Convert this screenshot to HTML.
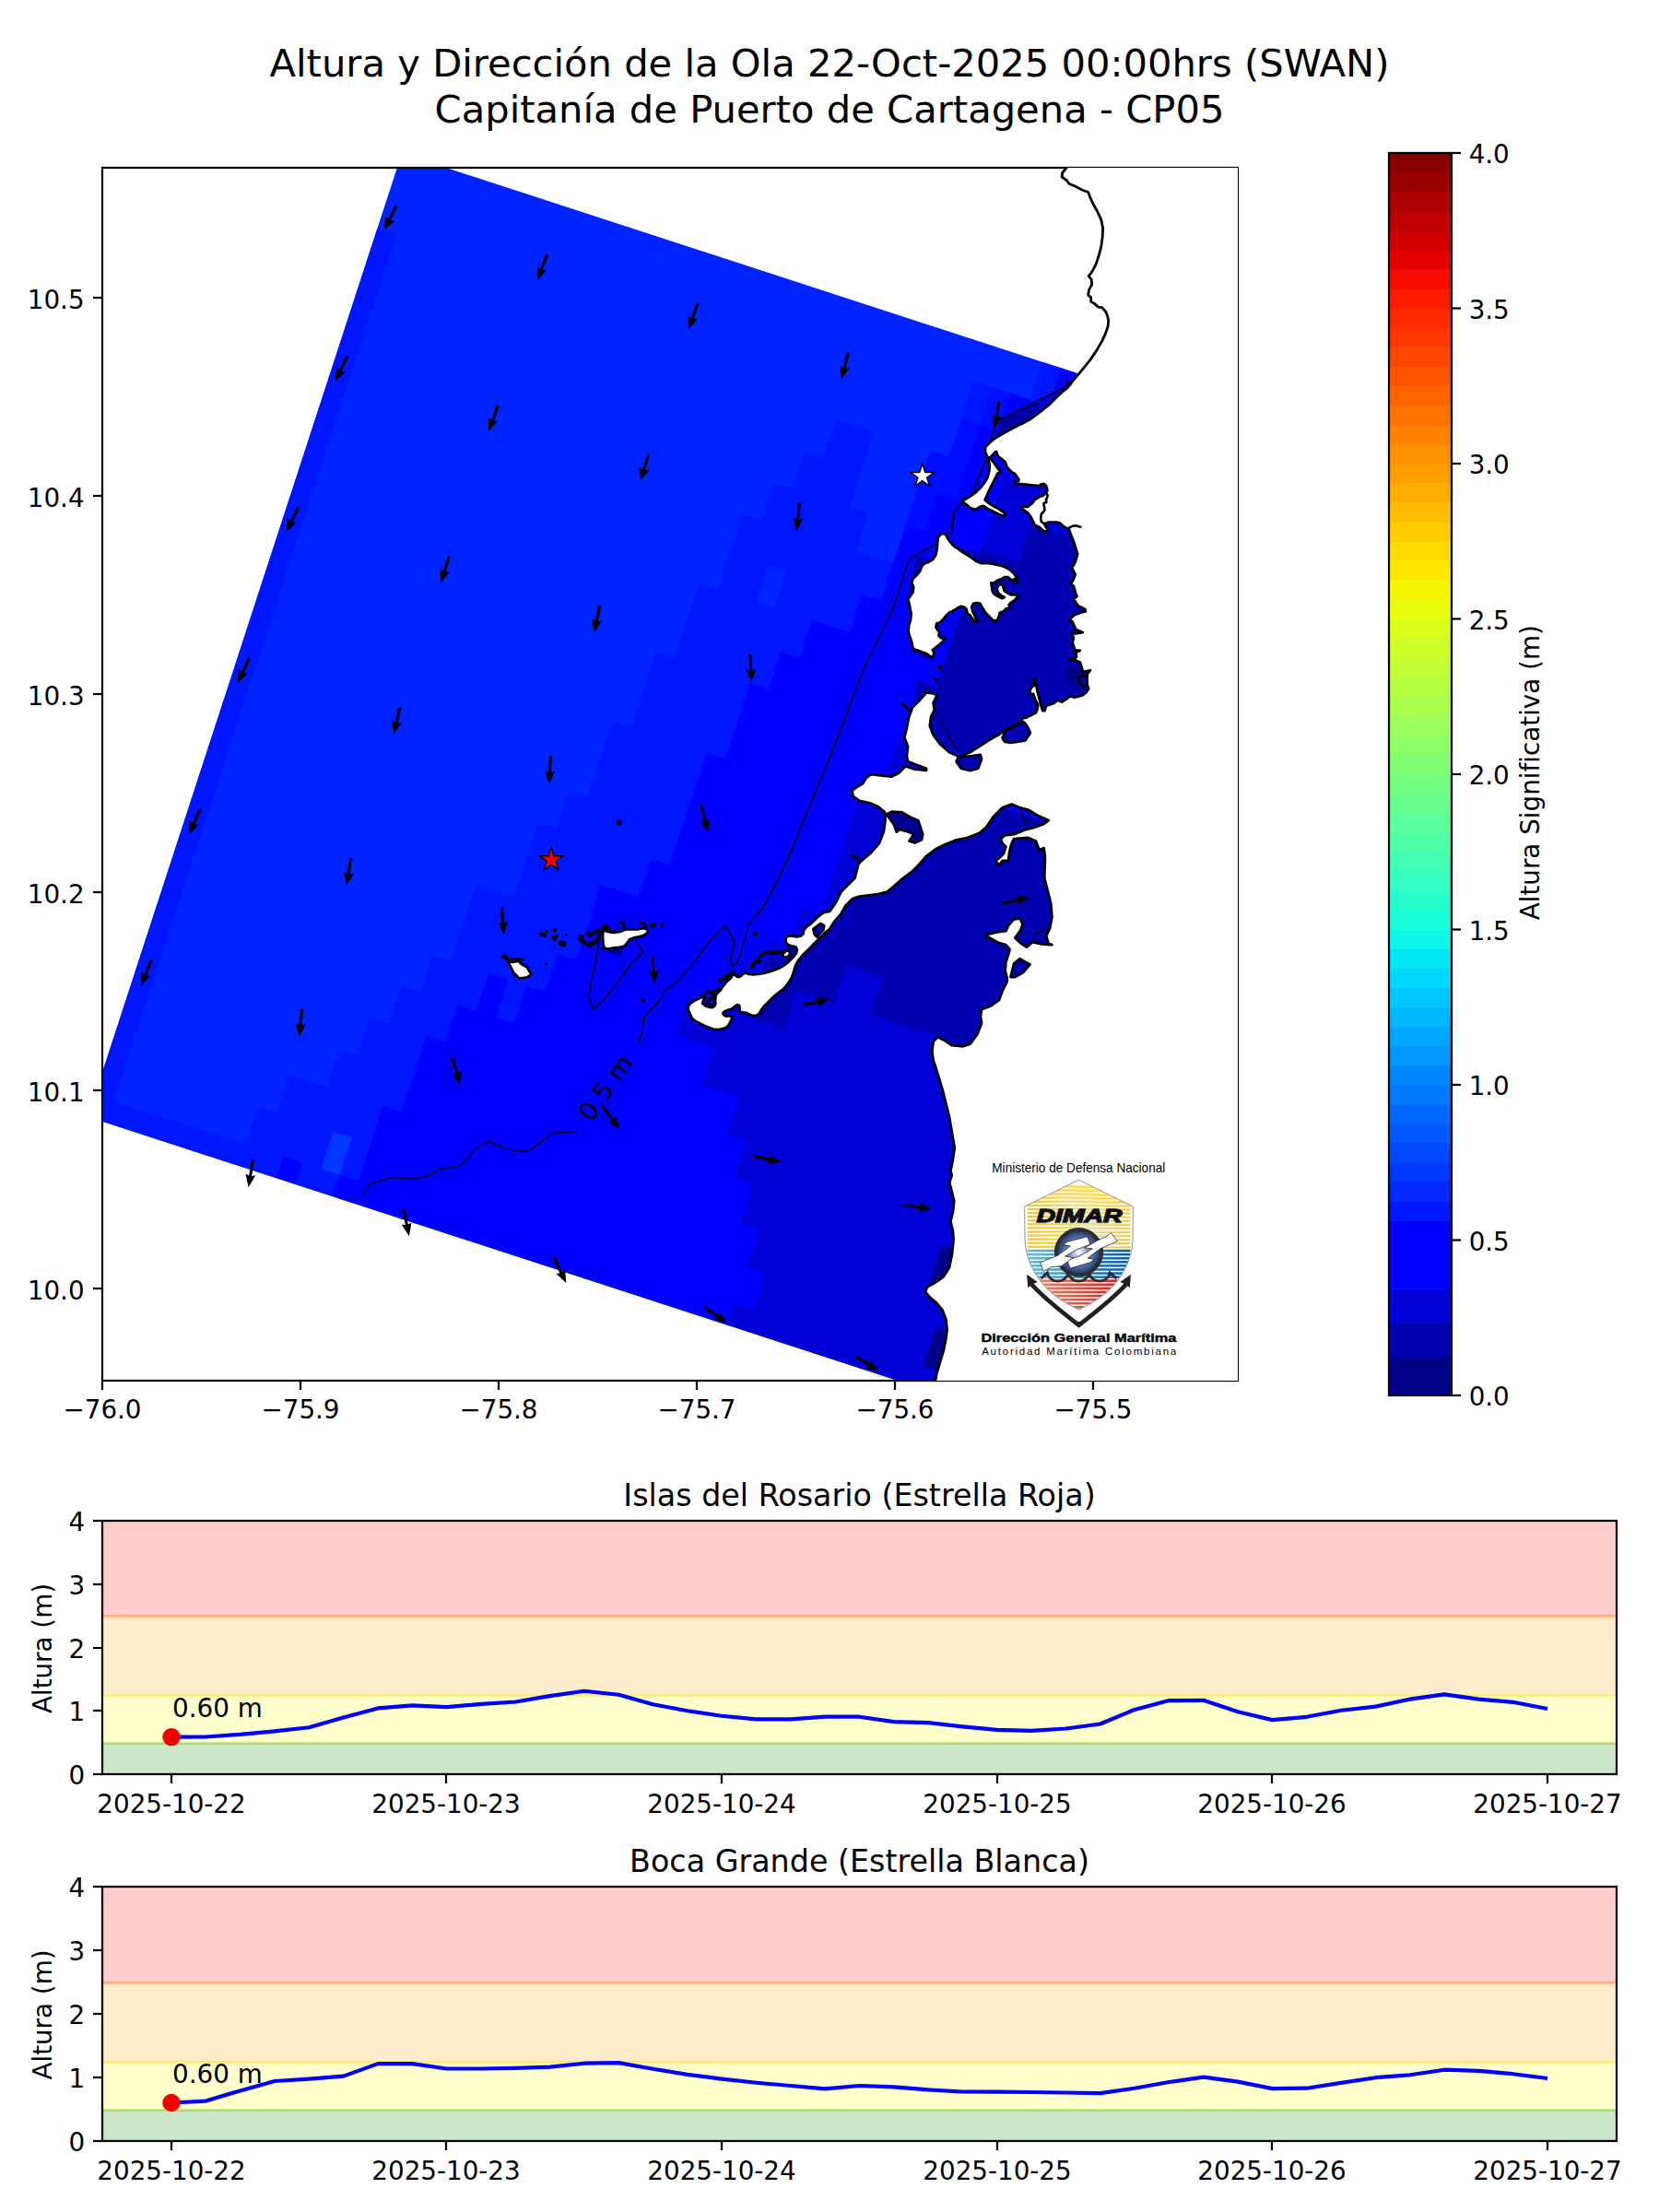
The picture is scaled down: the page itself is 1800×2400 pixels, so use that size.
<!DOCTYPE html>
<html lang="es"><head><meta charset="utf-8"><title>Altura y Dirección de la Ola</title>
<style>html,body{margin:0;padding:0;background:#fff}svg{display:block}text{font-family:'DejaVu Sans','Liberation Sans',sans-serif;fill:#000}</style></head><body>
<svg width="1800" height="2400" viewBox="0 0 1800 2400">
<rect width="1800" height="2400" fill="#fff"/>
<text x="900" y="82.6" font-size="41.67" text-anchor="middle">Altura y Dirección de la Ola 22-Oct-2025 00:00hrs (SWAN)</text>
<text x="900" y="133" font-size="41.67" text-anchor="middle">Capitanía de Puerto de Cartagena - CP05</text>
<clipPath id="cm"><rect x="111" y="182" width="1232" height="1316"/></clipPath>
<g clip-path="url(#cm)">
<path d="M484.18 182 L430.88 182 L111 1163.59 L111 1216.69 L974.21 1498 L1132.66 1498 L1343 852.56 L1343 461.88Z" fill="#0024ff"/>
<path d="M347.84 1268.53 L368.85 1275.38 L382.36 1233.92 L361.35 1227.07Z" fill="#0038ff"/>
<path d="M307.53 1255.39 L327.4 1261.87 L319.93 1284.78 L361.38 1298.29 L368.85 1275.38 L389.29 1282.04 L402.8 1240.58 L415.94 1200.27 L436.38 1206.93 L449.89 1165.48 L463.03 1125.16 L483.47 1131.83 L496.79 1090.94 L517.24 1097.6 L530.56 1056.72 L550.43 1063.2 L537.11 1104.08 L558.12 1110.93 L571.44 1070.04 L591.89 1076.7 L605.21 1035.82 L625.65 1042.48 L638.97 1001.6 L652.3 960.72 L672.17 967.19 L693.18 974.04 L706.5 933.15 L726.95 939.82 L740.27 898.93 L753.59 858.05 L766.92 817.16 L787.36 823.83 L800.68 782.94 L814.01 742.06 L834.45 748.72 L847.77 707.84 L868.21 714.5 L881.54 673.61 L901.41 680.09 L922.42 686.94 L935.74 646.05 L956.19 652.72 L969.69 611.26 L949.25 604.6 L928.81 597.94 L942.13 557.05 L921.69 550.39 L935.02 509.51 L948.34 468.63 L927.9 461.96 L906.89 455.12 L893.56 496 L873.12 489.34 L859.8 530.22 L839.35 523.56 L826.03 564.44 L805.59 557.78 L792.27 598.67 L778.94 639.55 L758.5 632.89 L745.18 673.77 L731.85 714.66 L711.41 707.99 L698.09 748.88 L684.76 789.76 L664.32 783.1 L651 823.98 L637.68 864.87 L617.23 858.21 L603.91 899.09 L583.47 892.43 L570.15 933.31 L556.82 974.2 L536.95 967.72 L515.94 960.87 L502.61 1001.76 L489.29 1042.64 L468.85 1035.98 L455.53 1076.86 L435.08 1070.2 L421.76 1111.08 L401.32 1104.42 L388 1145.31 L367.55 1138.64 L354.23 1179.53 L333.79 1172.87 L313.35 1166.21 L300.02 1207.09 L279.58 1200.43 L266.26 1241.31 L246.39 1234.84 L225.94 1228.17 L205.5 1221.51 L185.06 1214.85 L164.62 1208.19 L144.18 1201.53 L123.73 1194.86 L136.87 1154.55 L150.2 1113.67 L163.52 1072.78 L176.84 1031.9 L190.17 991.02 L203.49 950.13 L216.81 909.25 L230.14 868.36 L243.46 827.48 L256.78 786.6 L270.11 745.71 L283.43 704.83 L296.75 663.95 L310.08 623.06 L323.4 582.18 L336.72 541.29 L350.23 499.84 L363.37 459.53 L363.56 458.96 L376.88 418.07 L390.2 377.19 L403.53 336.3 L416.85 295.42 L430.17 254.54 L409.45 247.78 L111 1163.59 L111 1216.69 L300.06 1278.3ZM361.73 1227.83 L381.6 1234.31 L368.47 1274.62 L348.6 1268.14ZM833.53 612.75 L853.41 619.22 L840.27 659.54 L820.4 653.06ZM1117.32 433.87 L1138.34 440.72 L1151.75 399.55 L1130.74 392.71ZM1056.18 413.32 L1042.67 454.77 L1063.69 461.62 L1077.2 420.17Z" fill="#0016ff"/>
<path d="M1029.54 495.09 L1009.09 488.42 L995.77 529.31 L982.26 570.76 L1003.27 577.61 L1016.6 536.73 L1037.04 543.39 L1050.36 502.5 L1050.55 501.93 L1063.69 461.62 L1084.13 468.28 L1097.64 426.83 L1076.63 419.98 L1063.3 460.86 L1042.86 454.2Z" fill="#000cff"/>
<path d="M436 1206.18 L415.56 1199.51 L402.05 1240.97 L402.05 1240.97 L388.91 1281.28 L368.47 1274.62 L360.81 1298.1 L381.83 1304.95 L389.29 1282.04 L409.74 1288.7 L430.18 1295.36 L450.62 1302.02 L463.94 1261.14 L484.38 1267.8 L504.83 1274.46 L518.15 1233.58 L538.02 1240.05 L558.46 1246.72 L579.48 1253.56 L592.8 1212.68 L612.67 1219.16 L633.68 1226 L647.01 1185.12 L667.45 1191.78 L680.96 1150.33 L694.28 1109.44 L707.42 1069.13 L727.86 1075.79 L741.18 1034.91 L761.63 1041.57 L774.95 1000.69 L794.82 1007.16 L815.83 1014.01 L829.16 973.12 L842.48 932.24 L862.92 938.9 L876.25 898.02 L889.57 857.14 L902.89 816.25 L916.22 775.37 L929.54 734.48 L942.86 693.6 L963.3 700.26 L976.63 659.38 L989.95 618.49 L1003.27 577.61 L1023.72 584.27 L1037.04 543.39 L1057.48 550.05 L1070.99 508.6 L1084.31 467.71 L1063.3 460.86 L1049.79 502.32 L1036.66 542.63 L1016.21 535.97 L1002.89 576.85 L982.45 570.19 L969.12 611.08 L955.8 651.96 L935.36 645.3 L922.04 686.18 L902.16 679.71 L881.15 672.86 L867.83 713.74 L847.39 707.08 L834.06 747.96 L813.62 741.3 L800.3 782.19 L786.97 823.07 L766.53 816.41 L753.21 857.29 L739.89 898.18 L726.56 939.06 L706.12 932.4 L692.8 973.28 L672.93 966.81 L651.91 959.96 L638.59 1000.84 L625.27 1041.73 L604.82 1035.06 L591.5 1075.95 L571.06 1069.29 L557.74 1110.17 L537.86 1103.69 L551.19 1062.81 L530.18 1055.96 L516.85 1096.85 L496.41 1090.19 L483.09 1131.07 L462.64 1124.41 L449.14 1165.86 L449.14 1165.86Z" fill="#0000ff"/>
<path d="M559.22 1246.33 L538.78 1239.67 L517.77 1232.82 L504.44 1273.71 L484 1267.04 L463.56 1260.38 L450.23 1301.27 L429.79 1294.6 L409.35 1287.94 L388.91 1281.28 L381.26 1304.77 L790.66 1438.19 L798.13 1415.27 L818.57 1421.93 L832.08 1380.48 L811.64 1373.82 L824.96 1332.93 L804.52 1326.27 L817.85 1285.39 L797.4 1278.73 L810.73 1237.84 L790.29 1231.18 L803.61 1190.3 L783.17 1183.64 L762.73 1176.97 L776.05 1136.09 L755.61 1129.43 L735.16 1122.77 L748.3 1082.45 L768.17 1088.93 L789.19 1095.78 L802.51 1054.89 L822.95 1061.55 L836.27 1020.67 L856.72 1027.33 L870.04 986.45 L890.48 993.11 L903.81 952.23 L917.13 911.34 L930.45 870.46 L950.89 877.12 L964.22 836.24 L977.54 795.35 L997.41 801.83 L984.28 842.14 L970.95 883.03 L957.44 924.48 L977.88 931.14 L998.9 937.99 L1012.22 897.11 L1032.66 903.77 L1053.1 910.43 L1066.43 869.55 L1086.87 876.21 L1107.31 882.87 L1127.75 889.53 L1141.08 848.65 L1161.52 855.31 L1181.96 861.97 L1201.83 868.45 L1188.51 909.33 L1208.95 915.99 L1195.63 956.87 L1216.07 963.54 L1202.93 1003.85 L1189.42 1045.3 L1209.86 1051.97 L1196.73 1092.28 L1176.28 1085.62 L1162.96 1126.5 L1142.52 1119.84 L1122.08 1113.18 L1101.64 1106.52 L1088.13 1147.97 L1108.57 1154.63 L1095.24 1195.52 L1115.69 1202.18 L1102.36 1243.06 L1089.04 1283.95 L1109.48 1290.61 L1096.16 1331.49 L1082.83 1372.37 L1103.28 1379.04 L1089.95 1419.92 L1110.39 1426.58 L1097.07 1467.47 L1087.12 1498 L1132.66 1498 L1343 852.56 L1343 461.88 L1151.18 399.37 L1137.95 439.97 L1117.51 433.3 L1117.51 433.3 L1097.07 426.64 L1083.56 468.1 L1070.23 508.98 L1057.1 549.29 L1036.66 542.63 L1023.33 583.52 L1002.89 576.85 L989.57 617.74 L976.24 658.62 L962.92 699.51 L942.48 692.84 L929.15 733.73 L915.83 774.61 L902.51 815.5 L889.18 856.38 L875.86 897.26 L862.54 938.15 L842.1 931.48 L828.77 972.37 L815.45 1013.25 L795.58 1006.78 L774.56 999.93 L761.24 1040.81 L740.8 1034.15 L727.48 1075.03 L707.03 1068.37 L693.52 1109.83 L680.2 1150.71 L667.06 1191.02 L646.62 1184.36 L633.3 1225.25 L613.43 1218.77 L592.41 1211.92 L579.09 1252.81ZM1099.81 834.57 L1079.37 827.9 L1058.92 821.24 L1038.48 814.58 L1018.61 808.11 L998.17 801.44 L1011.31 761.13 L1024.63 720.25 L1037.95 679.36 L1051.28 638.48 L1064.6 597.6 L1077.92 556.71 L1091.25 515.83 L1111.69 522.49 L1125.01 481.61 L1145.45 488.27 L1165.9 494.93 L1165.9 494.93 L1186.34 501.59 L1186.34 501.59 L1206.21 508.07 L1192.89 548.95 L1213.33 555.61 L1200.19 595.93 L1186.68 637.38 L1207.12 644.04 L1193.8 684.93 L1214.24 691.59 L1201.1 731.9 L1187.59 773.35 L1208.04 780.02 L1194.9 820.33 L1174.46 813.67 L1154.02 807.01 L1133.57 800.34 L1113.13 793.68ZM1043.05 1494.46 L1041.9 1498 L1053.93 1498ZM328.15 1261.48 L307.14 1254.63 L299.49 1278.12 L320.5 1284.97Z" fill="#0000ff"/>
<path d="M734.41 1123.15 L754.85 1129.81 L775.29 1136.47 L761.97 1177.36 L782.41 1184.02 L802.85 1190.68 L789.53 1231.57 L809.97 1238.23 L796.65 1279.11 L817.09 1285.77 L803.77 1326.66 L824.21 1333.32 L810.88 1374.2 L831.33 1380.86 L818.19 1421.18 L797.75 1414.52 L790.09 1438 L974.21 1498 L1042.53 1498 L1043.43 1495.21 L1051.99 1498 L1087.75 1498 L1097.83 1467.08 L1111.15 1426.2 L1090.71 1419.54 L1104.03 1378.65 L1083.59 1371.99 L1096.91 1331.11 L1110.24 1290.22 L1089.8 1283.56 L1103.12 1242.68 L1116.44 1201.79 L1096 1195.13 L1109.32 1154.25 L1088.31 1147.4 L1067.87 1140.74 L1047.43 1134.08 L1026.99 1127.42 L1007.11 1120.94 L986.67 1114.28 L966.23 1107.62 L945.79 1100.95 L959.11 1060.07 L938.67 1053.41 L917.66 1046.56 L904.33 1087.44 L884.46 1080.97 L863.45 1074.12 L850.13 1115.01 L830.26 1108.53 L809.81 1101.87 L822.95 1061.55 L843.39 1068.22 L856.72 1027.33 L877.16 1033.99 L890.48 993.11 L910.92 999.77 L924.25 958.89 L944.69 965.55 L958.01 924.67 L971.34 883.78 L984.66 842.9 L998.17 801.44 L977.16 794.6 L963.83 835.48 L950.51 876.36 L930.07 869.7 L916.74 910.59 L903.42 951.47 L890.1 992.35 L869.66 985.69 L856.33 1026.58 L835.89 1019.91 L822.57 1060.8 L802.13 1054.14 L788.8 1095.02 L768.93 1088.54 L747.92 1081.7ZM1035.75 1447.48 L1022.61 1487.79 L1002.74 1481.32 L1015.87 1441ZM1041.95 1359.05 L1028.81 1399.36 L1008.94 1392.89 L1022.08 1352.58ZM1145.07 487.51 L1145.07 487.51 L1124.63 480.85 L1111.3 521.73 L1090.86 515.07 L1077.54 555.96 L1064.03 597.41 L1085.04 604.26 L1105.48 610.92 L1118.81 570.03 L1139.25 576.7 L1159.69 583.36 L1180.13 590.02 L1200.58 596.68 L1214.08 555.23 L1193.64 548.57 L1206.97 507.68 L1185.95 500.83 L1185.95 500.83 L1165.51 494.17 L1165.51 494.17ZM1195.28 821.09 L1208.79 779.63 L1187.78 772.78 L1167.34 766.12 L1153.83 807.58 L1174.84 814.42Z" fill="#0000d6"/>
<path d="M1017.85 808.49 L1038.87 815.34 L1059.31 822 L1079.75 828.66 L1100.19 835.32 L1113.52 794.44 L1133.96 801.1 L1154.4 807.76 L1167.72 766.88 L1188.17 773.54 L1201.49 732.66 L1215 691.2 L1194.56 684.54 L1207.88 643.66 L1187.44 637 L1200.76 596.11 L1179.75 589.26 L1159.31 582.6 L1138.86 575.94 L1118.42 569.28 L1105.1 610.16 L1084.66 603.5 L1064.22 596.84 L1050.89 637.72 L1037.57 678.61 L1024.25 719.49 L1010.92 760.37 L997.41 801.83ZM944.3 964.79 L923.86 958.13 L910.54 999.02 L890.1 992.35 L876.77 1033.24 L856.33 1026.58 L843.01 1067.46 L822.57 1060.8 L809.06 1102.25 L829.5 1108.91 L850.51 1115.76 L863.84 1074.88 L883.71 1081.35 L904.72 1088.2 L918.04 1047.32 L937.91 1053.79 L958.36 1060.45 L945.03 1101.34 L965.47 1108 L985.92 1114.66 L1006.36 1121.32 L1027.37 1128.17 L1047.81 1134.83 L1068.25 1141.49 L1088.7 1148.16 L1102.02 1107.27 L1122.46 1113.93 L1142.9 1120.6 L1163.35 1127.26 L1176.67 1086.37 L1197.11 1093.04 L1210.62 1051.58 L1190.18 1044.92 L1203.32 1004.61 L1216.83 963.15 L1196.38 956.49 L1209.71 915.61 L1189.26 908.94 L1202.59 868.06 L1181.58 861.21 L1161.13 854.55 L1140.69 847.89 L1127.37 888.77 L1106.93 882.11 L1086.48 875.45 L1066.04 868.79 L1052.72 909.67 L1032.28 903.01 L1011.84 896.35 L998.51 937.23 L978.64 930.76 L957.63 923.91Z" fill="#0000b0"/>
<path d="M1029.2 1400.12 L1042.71 1358.67 L1021.69 1351.82 L1008.19 1393.27ZM1022.99 1488.55 L1036.5 1447.1 L1015.49 1440.25 L1001.98 1481.7Z" fill="#000088"/>
<path d="M1159.9 721.1 L1173 726.1 L1172.3 734.8 L1169.8 746.1 L1154.9 738.6Z" fill="#000088"/>
<path d="M654.5 1030.1 L675.1 1030.1 L673.4 1037.5 L659.1 1032.4Z" fill="#000090"/>
<path d="M993.7 602.4 L1012.4 608.7 L998.6 619.9 L989.9 624.9Z" fill="#0000b0"/>
<path d="M986.2 634.9 L991.2 636.1 L989.9 642.4 L984.3 641.1Z" fill="#0000b0"/>
<path d="M1034.8 591.2 L1063.5 599.9 L1059.8 608.7 L1039.8 596.2Z" fill="#0000b0"/>
<path d="M987.4 702.2 L1009.9 713.5 L1004.9 716 L989.9 707.2Z" fill="#0000b0"/>
<path d="M994.9 737.2 L1014.9 744.7 L1007.4 754.7 L992.4 767Z" fill="#0000b0"/>
<path d="M829.7 1041.9 L837.4 1044.8 L842.2 1046.7 L850.9 1047.7 L846.1 1050.1 L840.3 1052.5 L834.5 1054.4 L828.7 1055.9 L827.3 1052.5Z" fill="#0000b0"/>
<path d="M1086.1 454.9 L1109.8 442.4 L1124.8 436.2 L1134 437 L1118.5 452 L1102.3 462 L1087.3 470.6 L1079.9 474.3Z" fill="#0000a0"/>
<path d="M1124.8 436.2 L1160 417 L1165 420 L1134 441Z" fill="#0000d6"/>
<path d="M1160.13 417.65 L1080.08 457.67 L1070.08 497.69 L1055.07 535.22 L1035.06 555.23 L1032.56 575.24 L1034.83 560 L1034.2 567.49 L1032.96 576.22 L1027.34 579.96 L1014.86 590.57 L999.89 598.68 L986.17 606.79 L982.42 618.64 L978.68 629.87 L974.94 642.35 L971.19 653.58 L966.2 666.06 L961.21 677.29 L953.73 692.26 L946.24 707.23 L940 719.71 L931.28 740 L917.52 777.52 L900.01 822.55 L880 871.33 L867.59 900 L860.08 920.01 L845.08 952.53 L827.56 985.05 L812.56 1002.56 L806.3 1025.08 L800.05 1045.09 L795.05 1047.59 L792.04 1042.59 L797.05 1022.57 L787.54 1003.81 L772.53 1017.57 L752.52 1045.09 L735.01 1065.1 L720 1076.36 L717.62 1082.57 L706.36 1095.08 L698.86 1103.84 L697.11 1120.1 L692.6 1130.1" fill="none" stroke="#000" stroke-width="1.4"/>
<path d="M625.14 1227.84 L601.27 1229.03 L571.44 1249.72 L549.55 1246.93 L529.66 1237.78 L515.74 1246.93 L499.82 1264.83 L475.95 1268.81 L466.01 1275.58 L448.11 1279.55 L426.23 1277.57 L402.36 1283.53 L394.4 1296.26" fill="none" stroke="#000" stroke-width="1.4"/>
<path d="M650.08 1018.79 L646.33 1042.55 L641.32 1065.06 L638.82 1081.32 L643.82 1095.58 L655.08 1085.08 L670.09 1066.31 L685.1 1045.05 L698.11 1033.79 L690.1 1020.04" fill="none" stroke="#000" stroke-width="1.4"/>
<path d="M428.81 222.22 L421.14 237.84 L418.21 234.84 L416.99 249.83 L428.09 239.69 L423.93 239.2 L431.59 223.58Z" fill="#000"/>
<path d="M592.2 275.55 L586.02 291.81 L582.82 289.1 L582.99 304.14 L593.11 293.01 L588.92 292.92 L595.1 276.65Z" fill="#000"/>
<path d="M755.64 328.78 L749.8 345.17 L746.55 342.53 L747.04 357.56 L756.91 346.22 L752.72 346.21 L758.56 329.82Z" fill="#000"/>
<path d="M919.05 382.11 L914.7 398.96 L911.23 396.62 L913.05 411.55 L921.88 399.37 L917.7 399.74 L922.05 382.89Z" fill="#000"/>
<path d="M1082.47 435.47 L1079.88 452.68 L1076.18 450.7 L1079.54 465.37 L1087.06 452.34 L1082.95 453.14 L1085.53 435.93Z" fill="#000"/>
<path d="M375.61 385.97 L367.95 401.59 L365.02 398.59 L363.79 413.59 L374.89 403.44 L370.73 402.96 L378.39 387.33Z" fill="#000"/>
<path d="M538.99 439.32 L533.02 455.66 L529.79 452.99 L530.16 468.03 L540.13 456.77 L535.94 456.73 L541.91 440.38Z" fill="#000"/>
<path d="M702.42 492.59 L697.21 509.19 L693.86 506.67 L694.91 521.67 L704.35 509.96 L700.16 510.11 L705.38 493.51Z" fill="#000"/>
<path d="M865.81 546.1 L864.13 563.42 L860.34 561.65 L864.47 576.11 L871.29 562.7 L867.22 563.72 L868.89 546.4Z" fill="#000"/>
<path d="M322.41 549.71 L314.66 565.28 L311.74 562.27 L310.43 577.25 L321.59 567.17 L317.43 566.67 L325.19 551.09Z" fill="#000"/>
<path d="M485.77 603.15 L480.74 619.81 L477.36 617.33 L478.59 632.32 L487.9 620.51 L483.71 620.71 L488.73 604.05Z" fill="#000"/>
<path d="M649.18 656.5 L645.84 673.58 L642.23 671.44 L644.94 686.24 L653.02 673.56 L648.88 674.17 L652.22 657.1Z" fill="#000"/>
<path d="M812.6 710.06 L813.3 727.45 L809.3 726.21 L815.36 739.98 L820.29 725.77 L816.4 727.32 L815.7 709.94Z" fill="#000"/>
<path d="M976.71 764.47 L990.93 774.49 L987.51 776.91 L1002.12 780.48 L993.85 767.92 L992.72 771.96 L978.49 761.93Z" fill="#000"/>
<path d="M269.2 713.49 L261.74 729.2 L258.77 726.24 L257.73 741.25 L268.7 730.96 L264.54 730.53 L272 714.81Z" fill="#000"/>
<path d="M432.54 767 L428.64 783.96 L425.11 781.71 L427.33 796.59 L435.83 784.18 L431.66 784.66 L435.56 767.7Z" fill="#000"/>
<path d="M595.95 820.46 L594.95 837.83 L591.09 836.21 L595.78 850.5 L602.07 836.84 L598.05 838.01 L599.05 820.64Z" fill="#000"/>
<path d="M759.44 874.11 L763.52 891.03 L759.35 890.59 L767.98 902.91 L770.05 888.02 L766.53 890.3 L762.46 873.39Z" fill="#000"/>
<path d="M923.39 928.13 L936.59 939.46 L932.95 941.55 L947.16 946.5 L940.12 933.2 L938.61 937.11 L925.41 925.77Z" fill="#000"/>
<path d="M1088.18 981.67 L1105.19 977.99 L1104.65 982.15 L1117.17 973.82 L1102.33 971.4 L1104.53 974.96 L1087.52 978.63Z" fill="#000"/>
<path d="M215.99 877.26 L208.85 893.14 L205.82 890.24 L205.1 905.26 L215.86 894.75 L211.68 894.41 L218.81 878.54Z" fill="#000"/>
<path d="M379.32 930.87 L376.68 948.06 L372.99 946.08 L376.3 960.75 L383.86 947.75 L379.75 948.53 L382.38 931.33Z" fill="#000"/>
<path d="M542.76 984.43 L544.17 1001.77 L540.12 1000.69 L546.74 1014.2 L551.08 999.8 L547.26 1001.52 L545.84 984.17Z" fill="#000"/>
<path d="M706.21 1037.64 L707.83 1054.97 L703.77 1053.94 L710.56 1067.37 L714.72 1052.92 L710.92 1054.68 L709.29 1037.36Z" fill="#000"/>
<path d="M871.55 1092.21 L888.49 1088.24 L888.03 1092.4 L900.41 1083.85 L885.52 1081.69 L887.79 1085.22 L870.85 1089.19Z" fill="#000"/>
<path d="M162.76 1041.08 L156.36 1057.26 L153.2 1054.51 L153.17 1069.55 L163.43 1058.55 L159.24 1058.4 L165.64 1042.22Z" fill="#000"/>
<path d="M326.11 1094.7 L324.43 1112.02 L320.64 1110.25 L324.77 1124.71 L331.59 1111.3 L327.52 1112.32 L329.19 1095Z" fill="#000"/>
<path d="M489.61 1148.47 L494.37 1165.21 L490.18 1164.94 L499.3 1176.91 L500.76 1161.94 L497.35 1164.36 L492.59 1147.63Z" fill="#000"/>
<path d="M653.31 1202.18 L663.74 1216.11 L659.74 1217.35 L672.53 1225.26 L668.54 1210.76 L666.22 1214.25 L655.79 1200.32Z" fill="#000"/>
<path d="M817.67 1255.97 L834.68 1259.64 L832.48 1263.2 L847.32 1260.78 L834.8 1252.45 L835.34 1256.61 L818.33 1252.93Z" fill="#000"/>
<path d="M981.24 1309.19 L998.47 1311.6 L996.53 1315.31 L1011.16 1311.81 L998.06 1304.42 L998.9 1308.53 L981.66 1306.11Z" fill="#000"/>
<path d="M272.92 1258.35 L270.1 1275.52 L266.43 1273.5 L269.58 1288.2 L277.28 1275.28 L273.16 1276.02 L275.98 1258.85Z" fill="#000"/>
<path d="M436.38 1312.11 L439.85 1329.16 L435.7 1328.58 L443.88 1341.2 L446.48 1326.38 L442.89 1328.54 L439.42 1311.49Z" fill="#000"/>
<path d="M599.95 1365.66 L607.41 1381.38 L603.25 1381.81 L614.22 1392.1 L613.18 1377.09 L610.21 1380.05 L602.75 1364.34Z" fill="#000"/>
<path d="M763.89 1419.45 L777.96 1429.69 L774.5 1432.06 L789.06 1435.85 L780.97 1423.17 L779.78 1427.18 L765.71 1416.95Z" fill="#000"/>
<path d="M927.41 1472.7 L942.02 1482.15 L938.7 1484.7 L953.45 1487.68 L944.67 1475.47 L943.7 1479.54 L929.09 1470.1Z" fill="#000"/>
</g>

<line x1="111" y1="1498" x2="111" y2="1508.02" stroke="#000" stroke-width="2.22"/>
<text x="111" y="1539.3" font-size="27.78" text-anchor="middle">−76.0</text>
<line x1="326" y1="1498" x2="326" y2="1508.02" stroke="#000" stroke-width="2.22"/>
<text x="326" y="1539.3" font-size="27.78" text-anchor="middle">−75.9</text>
<line x1="541" y1="1498" x2="541" y2="1508.02" stroke="#000" stroke-width="2.22"/>
<text x="541" y="1539.3" font-size="27.78" text-anchor="middle">−75.8</text>
<line x1="756" y1="1498" x2="756" y2="1508.02" stroke="#000" stroke-width="2.22"/>
<text x="756" y="1539.3" font-size="27.78" text-anchor="middle">−75.7</text>
<line x1="971" y1="1498" x2="971" y2="1508.02" stroke="#000" stroke-width="2.22"/>
<text x="971" y="1539.3" font-size="27.78" text-anchor="middle">−75.6</text>
<line x1="1186" y1="1498" x2="1186" y2="1508.02" stroke="#000" stroke-width="2.22"/>
<text x="1186" y="1539.3" font-size="27.78" text-anchor="middle">−75.5</text>
<line x1="111" y1="1398" x2="100.98" y2="1398" stroke="#000" stroke-width="2.22"/>
<text x="91.56" y="1409.6" font-size="27.78" text-anchor="end">10.0</text>
<line x1="111" y1="1183" x2="100.98" y2="1183" stroke="#000" stroke-width="2.22"/>
<text x="91.56" y="1194.6" font-size="27.78" text-anchor="end">10.1</text>
<line x1="111" y1="968" x2="100.98" y2="968" stroke="#000" stroke-width="2.22"/>
<text x="91.56" y="979.6" font-size="27.78" text-anchor="end">10.2</text>
<line x1="111" y1="753" x2="100.98" y2="753" stroke="#000" stroke-width="2.22"/>
<text x="91.56" y="764.6" font-size="27.78" text-anchor="end">10.3</text>
<line x1="111" y1="538" x2="100.98" y2="538" stroke="#000" stroke-width="2.22"/>
<text x="91.56" y="549.6" font-size="27.78" text-anchor="end">10.4</text>
<line x1="111" y1="323" x2="100.98" y2="323" stroke="#000" stroke-width="2.22"/>
<text x="91.56" y="334.6" font-size="27.78" text-anchor="end">10.5</text>
<rect x="111" y="182" width="1232" height="1316" fill="none" stroke="#000" stroke-width="2.22"/>

<g clip-path="url(#cm)">
<path d="M1157.13 182 L1152.63 187.51 L1152.13 192.01 L1157.13 195.51 L1160.13 199.51 L1166.39 202.02 L1173.89 206.02 L1180.64 208.52 L1183.15 215.02 L1186.4 222.03 L1190.65 229.53 L1194.65 238.04 L1196.65 247.54 L1196.15 257.55 L1194.65 268.06 L1192.15 277.56 L1189.15 286.57 L1184.65 295.07 L1181.14 299.57 L1184.15 303.08 L1184.65 308.83 L1181.64 314.08 L1180.64 320.09 L1183.65 322.59 L1183.65 327.09 L1187.65 329.59 L1191.65 333.09 L1195.65 333.6 L1199.66 338.1 L1201.66 343.1 L1202.66 347.6 L1202.16 353.86 L1199.66 361.36 L1195.65 370.12 L1190.15 379.62 L1183.15 390.13 L1175.14 400.14 L1167.64 408.89 L1162.13 415.64 L1157.63 421.4 L1152.63 425.15 L1145.12 432.15 L1137.62 439.66 L1127.61 447.66 L1118.11 454.67 L1107.6 460.17 L1097.59 465.17 L1087.59 470.68 L1080.08 475.18 L1073.83 480.18 L1068.83 485.19 L1069.08 490.69 L1071.08 495.19 L1072.19 496.83 L1073.44 502.44 L1073.69 507.43 L1073.07 512.42 L1071.19 518.66 L1068.07 523.65 L1063.71 529.27 L1058.72 534.26 L1052.48 538.63 L1046.24 542.37 L1043.74 543.62 L1046.24 545.49 L1049.36 547.98 L1052.48 551.1 L1058.72 552.97 L1063.08 549.86 L1066.83 548.86 L1071.19 551.73 L1077.43 554.85 L1083.67 557.97 L1089.29 560.09 L1090.53 556.72 L1083.67 552.35 L1077.43 548.86 L1072.19 545.49 L1068.7 542.37 L1070.57 538 L1073.07 532.39 L1076.18 526.15 L1079.3 519.91 L1082.42 513.67 L1084.29 512.42 L1086.17 511.8 L1083.67 509.3 L1081.18 506.18 L1078.68 502.44 L1076.18 499.32 L1074.31 496.2 L1079.93 490.59 L1081.18 489.96 L1081.8 493.08 L1083.67 495.58 L1087.41 498.7 L1090.53 501.19 L1091.78 504.31 L1092.41 506.81 L1095.52 509.93 L1098.02 512.42 L1101.14 513.92 L1103.01 516.79 L1104.88 519.29 L1105.51 521.16 L1101.76 523.03 L1101.14 524.9 L1104.88 524.9 L1114.86 525.9 L1124.85 526.77 L1127.34 527.4 L1129.21 525.52 L1132.33 524.9 L1134.83 526.77 L1136.08 529.89 L1136.08 532.39 L1134.83 534.26 L1132.33 537.38 L1127.34 539.25 L1122.35 542.37 L1119.86 546.11 L1114.86 549.86 L1108 549.86 L1109.87 552.97 L1114.86 556.09 L1118.61 561.08 L1121.1 566.08 L1122.97 569.82 L1127.34 571.69 L1132.33 576.06 L1134.83 577.31 L1136.7 574.81 L1132.96 568.57 L1137.32 566.7 L1146.06 566.7 L1149.8 567.32 L1152.3 569.82 L1156.66 572.94 L1159.78 573.56 L1160.41 576.06 L1162.28 581.05 L1164.77 587.29 L1166.65 592.9 L1167.89 597.27 L1169.14 601.01 L1167.89 605.38 L1166.65 609.75 L1164.77 613.49 L1162.9 615.36 L1164.77 619.73 L1166.65 622.85 L1165.4 627.22 L1163.53 630.96 L1161.65 633.45 L1164.77 635.95 L1166.02 639.69 L1167.27 644.68 L1168.52 647.18 L1164.77 649.67 L1167.27 653.42 L1169.76 657.16 L1177.25 660.9 L1177.88 663.4 L1172.26 664.65 L1166.02 667.14 L1162.9 669.64 L1161.03 672.13 L1163.53 675.88 L1163.6 674.31 L1165.47 678.68 L1167.34 683.05 L1174.83 686.17 L1167.34 687.41 L1162.97 686.79 L1164.85 692.41 L1163.6 697.4 L1165.47 702.39 L1166.09 705.51 L1171.71 705.88 L1167.34 708 L1167.97 712.37 L1166.09 714.86 L1160.48 715.49 L1167.34 716.74 L1171.71 718.61 L1173.58 723.6 L1174.83 729.21 L1182.94 727.34 L1179.82 731.08 L1179.2 737.32 L1179.82 743.56 L1181.07 747.31 L1178.57 751.05 L1174.83 754.17 L1171.08 755.42 L1166.09 756.66 L1161.1 755.42 L1156.11 759.16 L1152.37 761.65 L1147.38 759.78 L1143.63 762.9 L1138.64 764.77 L1134.9 766.02 L1133.65 771.01 L1131.16 771.01 L1129.29 764.77 L1127.41 757.29 L1125.54 749.8 L1124.29 743.56 L1122.42 736.08 L1121.18 738.57 L1122.42 743.56 L1118.68 746.06 L1116.81 752.3 L1121.18 752.92 L1123.05 758.54 L1126.17 764.77 L1125.54 769.76 L1123.67 773.51 L1118.68 776 L1113.69 778.5 L1109.95 779.12 L1107.45 783.49 L1098.72 788.48 L1089.98 792.22 L1083.74 797.22 L1080 799.09 L1080.12 798.79 L1070.11 805.04 L1060.11 811.29 L1052.6 816.3 L1045.1 819.55 L1040.1 820.55 L1030.09 816.3 L1020.08 807.54 L1012.58 797.53 L1008.83 787.53 L1010.08 777.52 L1013.83 770.02 L1012.58 762.51 L1016.33 755.01 L1013.83 752.51 L1005.08 751.26 L997.57 760.01 L990.07 767.52 L986.31 777.52 L983.81 790.03 L981.31 800.04 L985.06 810.04 L983.81 820.05 L985.06 826.3 L995.07 830.05 L1005.08 833.81 L1005.08 835.81 L992.57 834.56 L982.56 831.3 L975.06 838.81 L967.55 842.56 L955.05 841.31 L945.04 840.06 L940.04 843.81 L936.28 850.07 L930.03 853.82 L924.53 857.57 L925.53 863.82 L932.53 868.83 L943.79 871.33 L952.54 875.08 L960.05 881.33 L960.55 890.09 L958.8 902.6 L953.79 915.11 L945.04 925.11 L936.28 932.62 L931.28 937.62 L928.78 947.62 L927.62 952.53 L920.12 960.04 L912.62 967.54 L906.36 980.05 L900 988.86 L894.31 989.82 L890.45 992.23 L886.59 995.61 L882.73 999.47 L878.88 1002.84 L875.02 1005.73 L872.12 1009.11 L871.64 1012.97 L869.23 1015.38 L864.41 1016.34 L859.59 1015.67 L855.25 1015.38 L852.84 1017.79 L852.35 1021.65 L854.28 1024.54 L858.62 1026.47 L863.44 1027.43 L864.89 1030.33 L863.93 1034.19 L861.52 1037.56 L858.14 1040.94 L854.77 1044.31 L850.91 1047.2 L846.09 1050.1 L840.3 1052.51 L834.51 1054.44 L828.73 1055.88 L822.94 1056.85 L817.15 1057.33 L812.33 1056.85 L808.47 1055.4 L805.58 1057.33 L802.69 1059.74 L799.79 1059.74 L797.86 1058.3 L796.9 1056.37 L794.01 1059.26 L792.08 1062.15 L788.22 1065.05 L786.29 1067.94 L783.88 1070.83 L781.47 1074.69 L778.58 1077.1 L776.65 1079.99 L776.17 1083.37 L776.17 1087.23 L775.68 1091.09 L772.79 1093.01 L768.93 1092.53 L765.07 1091.09 L762.18 1088.67 L763.15 1085.3 L765.56 1082.89 L764.11 1081.44 L760.25 1082.41 L756.4 1084.33 L752.54 1086.26 L749.16 1088.67 L746.75 1092.05 L746.75 1095.91 L748.68 1099.77 L750.61 1104.59 L754.47 1107.96 L759.29 1110.37 L764.11 1112.78 L768.93 1114.71 L773.75 1116.64 L779.54 1117.12 L784.36 1116.16 L788.22 1114.71 L791.11 1111.34 L793.04 1107.48 L794.49 1103.62 L792.08 1102.18 L788.22 1102.66 L785.33 1101.21 L784.36 1099.28 L786.29 1097.35 L790.15 1095.91 L794.01 1094.46 L796.9 1092.05 L799.79 1090.12 L802.2 1091.09 L802.69 1094.94 L801.72 1097.35 L805.58 1098.32 L809.44 1098.8 L813.3 1100.73 L817.15 1102.18 L821.01 1101.69 L823.9 1099.77 L825.83 1095.91 L828.73 1092.05 L832.58 1088.19 L836.44 1084.33 L840.3 1080.48 L845.12 1076.62 L849.94 1073.24 L852.84 1069.87 L855.73 1066.01 L858.62 1061.19 L860.55 1056.37 L862 1051.54 L863.44 1046.72 L866.34 1041.9 L870.2 1037.08 L875.02 1032.26 L879.84 1027.43 L884.66 1022.61 L888.52 1018.75 L892.38 1014.9 L896.23 1011.04 L900 1008.15 L905.11 1000.06 L912.62 991.3 L917.62 982.55 L925.12 975.05 L932.63 972.54 L942.63 971.29 L952.64 970.04 L962.65 967.54 L970.15 961.29 L980.16 952.53 L990.16 945.03 L997.67 937.52 L1005.17 928.77 L1015.18 921.26 L1025.18 916.26 L1037.69 911.26 L1050.2 908.76 L1062.71 903.75 L1070.11 897.59 L1077.62 886.34 L1087.62 876.33 L1097.63 872.58 L1106.39 876.33 L1116.39 878.83 L1126.4 885.09 L1137.65 890.09 L1132.65 893.84 L1122.65 897.59 L1112.64 900.1 L1100.13 905.1 L1090.13 906.35 L1085.62 910.1 L1087.62 915.11 L1091.38 918.86 L1088.88 926.36 L1083.87 931.36 L1080.12 933.87 L1083.87 938.87 L1087.62 933.87 L1093.88 933.87 L1095.13 925.11 L1097.13 916.36 L1100.13 910.1 L1115.14 908.85 L1123.9 912.6 L1127.65 922.61 L1132.65 920.11 L1133.9 930.11 L1133.15 952.63 L1136.4 965.14 L1140.16 980.14 L1141.41 995.15 L1138.91 1007.66 L1135.15 1015.17 L1137.65 1023.92 L1141.41 1025.17 L1130.15 1024.42 L1120.14 1022.17 L1113.89 1027.67 L1108.14 1023.92 L1101.38 1017.67 L1107.14 1009.66 L1109.64 1002.66 L1106.39 996.4 L1099.63 997.65 L1093.88 1004.66 L1091.38 1010.16 L1081.37 1011.41 L1068.86 1014.66 L1076.37 1018.92 L1083.87 1023.17 L1091.38 1025.17 L1095.63 1030.17 L1093.88 1036.43 L1091.38 1043.93 L1090.63 1052.69 L1092.63 1061.44 L1092.63 1065.2 L1087.62 1075.2 L1083.87 1085.21 L1075.12 1091.46 L1065.11 1095.21 L1063.86 1102.72 L1065.11 1110.22 L1060.11 1122.73 L1052.6 1132.74 L1045.1 1135.24 L1032.59 1133.99 L1025.09 1128.98 L1017.58 1125.23 L1012.58 1130.23 L1011.33 1140.24 L1012.58 1150.25 L1015.18 1157.65 L1018.93 1170.16 L1022.68 1182.67 L1026.43 1197.68 L1030.19 1212.69 L1032.69 1227.7 L1035.69 1245.21 L1033.94 1257.71 L1031.44 1270.22 L1032.69 1275.23 L1030.19 1282.73 L1032.69 1292.74 L1035.19 1302.74 L1033.94 1315 L1031.3 1325.08 L1033.81 1335.08 L1034.56 1345.09 L1033.06 1360.1 L1030.05 1375.11 L1023.8 1385.11 L1015.05 1391.36 L1006.29 1396.37 L1003.79 1401.37 L1008.79 1407.62 L1016.3 1413.88 L1022.55 1421.38 L1026.3 1431.39 L1027.55 1442.65 L1026.3 1452.65 L1023.8 1465.16 L1020.05 1477.67 L1016.3 1490.17 L1014.54 1500.18 L1012.54 1510.19 L1010 1520 L1420 1520 L1420 140 L1156 140Z" fill="#fff" stroke="#000" stroke-width="2.8" stroke-linejoin="round"/>
<path d="M1022.97 578.72 L1026.09 579.96 L1027.97 583.71 L1031.08 588.07 L1034.83 592.44 L1039.82 595.56 L1044.81 599.3 L1049.8 602.42 L1054.79 605.54 L1059.78 609.29 L1064.77 611.16 L1071.01 610.91 L1077.25 611.78 L1083.49 613.03 L1089.73 614.9 L1095.34 618.02 L1099.71 621.76 L1102.83 626.13 L1104.7 631.12 L1102.21 632.37 L1100.96 628 L1098.46 629.87 L1095.97 628 L1093.47 626.13 L1089.73 626.13 L1087.23 628 L1082.24 629.87 L1077.25 632.99 L1075.38 632.37 L1076 636.11 L1076.63 641.1 L1078.5 644.22 L1082.24 646.72 L1087.23 649.21 L1089.73 647.97 L1085.99 646.09 L1082.87 642.97 L1081.62 638.61 L1083.49 634.86 L1087.86 633.62 L1088.48 637.36 L1089.73 641.1 L1093.47 643.6 L1097.22 645.47 L1102.21 645.47 L1104.08 647.34 L1100.96 651.08 L1097.22 653.58 L1094.72 656.08 L1095.34 659.82 L1091.6 660.44 L1088.48 663.56 L1084.74 664.81 L1083.49 669.8 L1080.99 674.17 L1077.25 672.92 L1074.13 669.8 L1071.01 666.68 L1068.52 663.56 L1066.02 659.82 L1063.53 654.83 L1059.78 654.2 L1056.04 654.83 L1054.17 658.57 L1055.42 663.56 L1057.29 667.31 L1058.54 671.05 L1061.03 674.17 L1057.29 674.79 L1054.79 671.05 L1052.3 667.31 L1049.8 666.06 L1048.55 661.07 L1046.06 658.57 L1042.31 657.95 L1038.57 659.82 L1034.83 662.31 L1029.84 664.81 L1026.09 668.55 L1022.97 672.3 L1019.86 675.42 L1016.11 676.66 L1015.49 680.41 L1017.36 683.53 L1019.23 686.02 L1018.61 689.76 L1021.1 692.26 L1026.09 692.26 L1022.35 696.63 L1018.61 699.75 L1014.86 702.87 L1011.74 705.36 L1013.62 708.48 L1011.74 713.47 L1008.63 711.6 L1004.88 709.1 L999.89 707.23 L994.9 705.36 L990.53 704.11 L989.91 699.75 L988.66 694.76 L986.79 689.76 L985.54 684.77 L986.17 678.54 L988.04 672.3 L988.66 666.06 L987.41 659.82 L986.17 653.58 L984.92 650.46 L988.04 646.09 L990.53 642.35 L991.16 637.36 L989.29 632.37 L990.53 628 L994.9 623.63 L998.02 619.89 L999.89 614.9 L1002.39 611.78 L1007.38 609.91 L1012.37 606.79 L1015.49 601.8 L1016.74 594.94 L1017.36 587.45 L1017.98 582.46 L1020.48 579.96Z" fill="#fff" stroke="#000" stroke-width="2.8" stroke-linejoin="round"/>
<path d="M654.53 1007.18 L657.96 1010.61 L665.98 1011.76 L674 1010.61 L678.58 1008.32 L684.3 1008.32 L691.18 1008.32 L698.05 1007.18 L702.63 1008.32 L702.63 1011.76 L699.19 1014.62 L693.47 1016.34 L687.74 1017.49 L683.16 1019.2 L680.3 1023.21 L677.43 1026.65 L671.71 1027.79 L665.98 1028.37 L660.25 1029.51 L655.67 1028.94 L654.53 1024.36 L653.95 1015.2Z" fill="#fff" stroke="#000" stroke-width="2.8" stroke-linejoin="round"/>
<path d="M551.45 1042.11 L556.03 1043.83 L562.91 1042.68 L564.62 1044.97 L568.06 1047.26 L572.07 1049.55 L574.36 1054.13 L576.65 1056.43 L573.21 1059.86 L568.63 1061.01 L562.91 1061.58 L560.61 1058.72 L557.18 1055.28 L554.89 1050.7 L552.6 1046.12Z" fill="#fff" stroke="#000" stroke-width="2.8" stroke-linejoin="round"/>
<path d="M848.98 1035.15 L852.35 1032.26 L855.25 1029.85 L857.18 1034.19 L855.73 1037.56 L850.91 1039.01Z" fill="#fff" stroke="#000" stroke-width="2.8" stroke-linejoin="round"/>
<path d="M1087.49 800.96 L1089.36 795.97 L1091.23 792.22 L1096.22 790.35 L1102.46 787.23 L1107.45 783.49 L1111.19 783.49 L1114.94 788.48 L1118.06 795.34 L1114.94 799.71 L1112.44 803.45 L1104.95 804.7 L1096.22 805.95 L1089.98 804.7Z" fill="#0000b0" stroke="#000" stroke-width="2.6" stroke-linejoin="round"/>
<path d="M1037.59 826.3 L1042.6 833.81 L1052.6 836.31 L1061.36 833.81 L1065.11 823.8 L1063.86 818.8 L1055.11 820.05 L1045.1 821.3 L1040.1 820.55Z" fill="#0000b0" stroke="#000" stroke-width="2.6" stroke-linejoin="round"/>
<path d="M960.55 883.84 L967.55 880.58 L978.81 881.33 L987.56 886.34 L996.32 890.09 L998.82 897.59 L1001.32 905.1 L1000.07 911.35 L992.57 914.6 L986.31 912.6 L991.32 905.1 L985.06 902.6 L976.31 900.1 L972.56 902.6 L970.05 895.09 L963.8 886.34Z" fill="#000090" stroke="#000" stroke-width="2.6" stroke-linejoin="round"/>
<path d="M1096.38 1060.19 L1100.13 1045.18 L1106.39 1040.18 L1112.64 1043.93 L1117.64 1046.43 L1110.14 1055.19 L1101.38 1060.19Z" fill="#0000b0" stroke="#000" stroke-width="2.6" stroke-linejoin="round"/>
<path d="M1169.21 734.83 L1179.2 732.33 L1179.2 737.32 L1179.82 743.56 L1174.83 746.06 L1172.33 739.82Z" fill="#0000b0" stroke="#000" stroke-width="2.6" stroke-linejoin="round"/>
<path d="M882.25 1008.15 L890.45 1001.88 L894.31 1004.29 L893.34 1009.11 L886.59 1016.83 L883.7 1013.93Z" fill="#0000b0" stroke="#000" stroke-width="2.6" stroke-linejoin="round"/>
<path d="M767 1087.23 L770.86 1083.37 L774.72 1081.44 L776.17 1089.16 L771.83 1091.57Z" fill="#0000d6" stroke="#000" stroke-width="2.6" stroke-linejoin="round"/>
<circle cx="1160.33" cy="416.18" r="2.6" fill="#000"/>
<circle cx="1032.33" cy="677.04" r="1.6" fill="#000"/>
<circle cx="1019.86" cy="724.08" r="2.6" fill="#000"/>
<circle cx="1015.74" cy="737.18" r="2.2" fill="#000"/>
<circle cx="587.53" cy="1013.48" r="2.2" fill="#000"/>
<circle cx="590.96" cy="1014.62" r="2.4" fill="#000"/>
<circle cx="593.25" cy="1010.61" r="1.6" fill="#000"/>
<circle cx="601.84" cy="1009.13" r="2.1" fill="#000"/>
<circle cx="600.13" cy="1017.49" r="2.2" fill="#000"/>
<circle cx="602.99" cy="1016.57" r="2" fill="#000"/>
<circle cx="604.71" cy="1015.42" r="1.4" fill="#000"/>
<circle cx="602.42" cy="1020.01" r="1.4" fill="#000"/>
<circle cx="608.72" cy="1023.21" r="3" fill="#000"/>
<circle cx="611.58" cy="1024.13" r="2.8" fill="#000"/>
<circle cx="614.44" cy="1014.28" r="1.5" fill="#000"/>
<circle cx="592.68" cy="1045.89" r="1.6" fill="#000"/>
<circle cx="708.35" cy="1004.32" r="2.8" fill="#000"/>
<circle cx="718.09" cy="1001.45" r="1.5" fill="#000"/>
<circle cx="718.09" cy="1004.89" r="1.5" fill="#000"/>
<circle cx="695.76" cy="1001.22" r="1.8" fill="#000"/>
<circle cx="699.19" cy="1001.68" r="1.8" fill="#000"/>
<circle cx="700.57" cy="1004.66" r="2" fill="#000"/>
<circle cx="673.42" cy="1000.31" r="1.6" fill="#000"/>
<circle cx="676.29" cy="1001.45" r="1.8" fill="#000"/>
<circle cx="676.86" cy="1004.66" r="2" fill="#000"/>
<circle cx="546.87" cy="1037.53" r="2.6" fill="#000"/>
<circle cx="549.73" cy="1039.48" r="2.4" fill="#000"/>
<circle cx="697.61" cy="1085.83" r="2.4" fill="#000"/>
<circle cx="819.68" cy="1013.78" r="2.6" fill="#000"/>
<circle cx="671.69" cy="892.46" r="2.8" fill="#000"/>
<circle cx="781.19" cy="1064.01" r="2.19" fill="#000"/>
<circle cx="782.07" cy="1063.82" r="1.93" fill="#000"/>
<circle cx="783.33" cy="1062.97" r="1.63" fill="#000"/>
<circle cx="785.22" cy="1061.46" r="1.68" fill="#000"/>
<circle cx="786.65" cy="1061.47" r="1.71" fill="#000"/>
<circle cx="787.78" cy="1059.95" r="2.45" fill="#000"/>
<circle cx="789.79" cy="1058.85" r="2.48" fill="#000"/>
<circle cx="790.39" cy="1058.87" r="1.86" fill="#000"/>
<circle cx="791.51" cy="1056.72" r="1.88" fill="#000"/>
<circle cx="793.55" cy="1055.86" r="2.12" fill="#000"/>
<circle cx="794.23" cy="1055.2" r="2.09" fill="#000"/>
<circle cx="794.75" cy="1053.97" r="1.79" fill="#000"/>
<circle cx="803.94" cy="1052.39" r="0.96" fill="#000"/>
<circle cx="807.65" cy="1051.47" r="0.95" fill="#000"/>
<circle cx="815.7" cy="1049.45" r="1.82" fill="#000"/>
<circle cx="816.31" cy="1047.73" r="2.39" fill="#000"/>
<circle cx="817.52" cy="1045.9" r="2.48" fill="#000"/>
<circle cx="818.47" cy="1044.47" r="2.28" fill="#000"/>
<circle cx="819.97" cy="1043.86" r="1.64" fill="#000"/>
<circle cx="822.24" cy="1043.58" r="2.12" fill="#000"/>
<circle cx="824.02" cy="1043.19" r="2.23" fill="#000"/>
<circle cx="823.09" cy="1039.13" r="1.76" fill="#000"/>
<circle cx="824.45" cy="1038.37" r="1.78" fill="#000"/>
<circle cx="825.13" cy="1035.6" r="1.96" fill="#000"/>
<circle cx="826.55" cy="1036.52" r="2.06" fill="#000"/>
<circle cx="827.42" cy="1034.97" r="1.93" fill="#000"/>
<circle cx="828.93" cy="1034.46" r="1.53" fill="#000"/>
<circle cx="831.01" cy="1033.19" r="2.01" fill="#000"/>
<circle cx="832.63" cy="1033.27" r="1.71" fill="#000"/>
<circle cx="835.43" cy="1032.77" r="1.76" fill="#000"/>
<circle cx="836.52" cy="1033.83" r="2.06" fill="#000"/>
<circle cx="838.63" cy="1032.87" r="1.73" fill="#000"/>
<circle cx="839.43" cy="1033.84" r="2.17" fill="#000"/>
<circle cx="840.7" cy="1032.7" r="1.59" fill="#000"/>
<circle cx="842.44" cy="1033.2" r="1.87" fill="#000"/>
<circle cx="844.1" cy="1032.43" r="1.74" fill="#000"/>
<circle cx="845.88" cy="1033.33" r="2.16" fill="#000"/>
<circle cx="848.08" cy="1032.76" r="1.89" fill="#000"/>
<circle cx="762.46" cy="1080.73" r="2.12" fill="#000"/>
<circle cx="763.92" cy="1080.82" r="2.04" fill="#000"/>
<circle cx="764.58" cy="1078.84" r="1.48" fill="#000"/>
<circle cx="766.25" cy="1077.08" r="1.45" fill="#000"/>
<circle cx="767.02" cy="1076.51" r="1.67" fill="#000"/>
<circle cx="768.22" cy="1075.53" r="1.52" fill="#000"/>
<circle cx="769.74" cy="1076.35" r="1.42" fill="#000"/>
<circle cx="772.42" cy="1076.99" r="1.52" fill="#000"/>
<circle cx="772.39" cy="1077.68" r="1.69" fill="#000"/>
<circle cx="773.15" cy="1079.59" r="2.19" fill="#000"/>
<circle cx="774.66" cy="1077.41" r="1.47" fill="#000"/>
<circle cx="775.05" cy="1075.6" r="1.61" fill="#000"/>
<circle cx="777.66" cy="1074.73" r="1.42" fill="#000"/>
<circle cx="779.3" cy="1074.74" r="1.52" fill="#000"/>
<circle cx="780.09" cy="1072.73" r="1.82" fill="#000"/>
<circle cx="835.48" cy="1039.97" r="1.2" fill="#000"/>
<circle cx="838.37" cy="1042.86" r="1.2" fill="#000"/>
<circle cx="841.75" cy="1045.28" r="1.3" fill="#000"/>
<circle cx="845.12" cy="1040.94" r="0.8" fill="#000"/>
<circle cx="852.84" cy="1042.86" r="0.9" fill="#000"/>
<circle cx="628.95" cy="1018.07" r="2.33" fill="#000"/>
<circle cx="628.95" cy="1018.53" r="1.85" fill="#000"/>
<circle cx="630.91" cy="1020.06" r="2.4" fill="#000"/>
<circle cx="631.35" cy="1020.56" r="2.43" fill="#000"/>
<circle cx="633.54" cy="1022.56" r="2.43" fill="#000"/>
<circle cx="634.42" cy="1023.37" r="1.9" fill="#000"/>
<circle cx="635.47" cy="1023.4" r="1.73" fill="#000"/>
<circle cx="636.21" cy="1023.93" r="1.93" fill="#000"/>
<circle cx="638.8" cy="1025.66" r="2.1" fill="#000"/>
<circle cx="640.72" cy="1025.14" r="2.56" fill="#000"/>
<circle cx="641.33" cy="1023.34" r="1.9" fill="#000"/>
<circle cx="642.59" cy="1022.74" r="2.26" fill="#000"/>
<circle cx="644.86" cy="1022.96" r="2.13" fill="#000"/>
<circle cx="645.61" cy="1022.09" r="1.78" fill="#000"/>
<circle cx="646.77" cy="1021.46" r="2.4" fill="#000"/>
<circle cx="648.06" cy="1019.97" r="1.86" fill="#000"/>
<circle cx="648.75" cy="1018.59" r="2.42" fill="#000"/>
<circle cx="649.67" cy="1017.55" r="2.06" fill="#000"/>
<circle cx="650.26" cy="1016.93" r="1.85" fill="#000"/>
<circle cx="649.58" cy="1014.87" r="2.51" fill="#000"/>
<circle cx="651.32" cy="1013.66" r="2.44" fill="#000"/>
<circle cx="652.26" cy="1013.27" r="2.02" fill="#000"/>
<circle cx="652.23" cy="1011.23" r="1.71" fill="#000"/>
<circle cx="653.56" cy="1010.85" r="2.17" fill="#000"/>
<circle cx="654.27" cy="1008.98" r="2.48" fill="#000"/>
<circle cx="654.86" cy="1007.1" r="1.93" fill="#000"/>
<circle cx="654.77" cy="1005.62" r="2.23" fill="#000"/>
<circle cx="656.05" cy="1005.14" r="1.82" fill="#000"/>
<circle cx="658.43" cy="1004.27" r="2.11" fill="#000"/>
<circle cx="630.61" cy="1015.27" r="1.65" fill="#000"/>
<circle cx="632" cy="1015.77" r="1.72" fill="#000"/>
<circle cx="637.39" cy="1012.71" r="1.85" fill="#000"/>
<circle cx="638.56" cy="1013.26" r="2.14" fill="#000"/>
<circle cx="640.26" cy="1014.58" r="2.08" fill="#000"/>
<circle cx="642.59" cy="1013.2" r="1.91" fill="#000"/>
<circle cx="644.31" cy="1012.79" r="1.58" fill="#000"/>
<circle cx="645.75" cy="1010.79" r="1.72" fill="#000"/>
<circle cx="647.52" cy="1010.05" r="1.95" fill="#000"/>
<circle cx="648.93" cy="1009.27" r="1.85" fill="#000"/>
<circle cx="659.29" cy="1007.19" r="1.91" fill="#000"/>
<circle cx="660.56" cy="1008.25" r="1.92" fill="#000"/>
<circle cx="551.42" cy="1041.1" r="1.65" fill="#000"/>
<circle cx="553.96" cy="1041.29" r="1.43" fill="#000"/>
<circle cx="555.37" cy="1041.48" r="1.72" fill="#000"/>
<circle cx="556.6" cy="1040.36" r="1.52" fill="#000"/>
<circle cx="558.07" cy="1040.26" r="1.34" fill="#000"/>
<circle cx="560.6" cy="1040.85" r="1.75" fill="#000"/>
<circle cx="561.35" cy="1040.45" r="1.63" fill="#000"/>
<circle cx="562.91" cy="1040.43" r="1.78" fill="#000"/>
<circle cx="564.94" cy="1040.73" r="1.5" fill="#000"/>
<circle cx="567.28" cy="1040.98" r="1.72" fill="#000"/>
<path d="M1016.33 772.52 L1040.1 817.55" fill="none" stroke="#000" stroke-width="1.0"/>
<path d="M1106.39 876.33 L1115.14 900.1 L1116.39 878.83" fill="none" stroke="#000" stroke-width="1.0"/>
<path d="M1120.14 1021.42 L1123.9 1012.66 L1138.91 1007.66" fill="none" stroke="#000" stroke-width="1.0"/>
<path d="M665.98 1008.9 L675.14 1005.46 L676.86 1002.03" fill="none" stroke="#000" stroke-width="1.0"/>
<path d="M1042.8 544.95 L1047.66 539.71" fill="none" stroke="#000" stroke-width="2.6" stroke-linecap="round" stroke-linejoin="round"/>
<path d="M1136.08 532.39 L1134.83 534.26 L1136.7 537.38 L1136.08 539.87 L1134.83 542.37 L1135.45 544.86 L1132.33 546.11 L1132.96 549.86 L1133.58 552.97 L1131.71 556.09 L1129.84 557.34 L1129.21 562.33 L1129.84 566.08 L1132.96 567.95" fill="none" stroke="#000" stroke-width="2.6" stroke-linecap="round" stroke-linejoin="round"/>
<path d="M1159.78 572.56 L1163.53 570.82 L1167.27 570.32 L1172.26 571.69" fill="none" stroke="#000" stroke-width="2.6" stroke-linecap="round" stroke-linejoin="round"/>
<text x="657.8" y="1180.6" font-size="27.78" text-anchor="middle" transform="rotate(-54.7 657.8 1180.6)" dy="9">0.5 m</text>
<path d="M1000.75 503.2 L1003.76 512.46 L1013.49 512.46 L1005.62 518.18 L1008.63 527.44 L1000.75 521.72 L992.87 527.44 L995.88 518.18 L988.01 512.46 L997.74 512.46Z" fill="#fff" stroke="#000" stroke-width="1.4" stroke-linejoin="miter"/>
<path d="M598.1 919.5 L601.11 928.76 L610.84 928.76 L602.97 934.48 L605.98 943.74 L598.1 938.02 L590.22 943.74 L593.23 934.48 L585.36 928.76 L595.09 928.76Z" fill="#f00000" stroke="#000" stroke-width="1.4" stroke-linejoin="miter"/>
<g id="logo">
<text x="1170.3" y="1272" font-size="14.2" text-anchor="middle" style="font-family:'Liberation Sans',Arial,sans-serif" fill="#111" textLength="188" lengthAdjust="spacingAndGlyphs">Ministerio de Defensa Nacional</text>
<g transform="translate(1090 1270) scale(0.096441)">
<defs><clipPath id="shc"><path d="M835 105 L1445 405 L1442 780 C1430 1000 1330 1190 1180 1340 C1080 1440 950 1510 835 1565 C720 1510 590 1440 490 1340 C340 1190 240 1000 228 780 L225 405 Z"/></clipPath>
<linearGradient id="gy" x1="0" y1="0" x2="1" y2="1"><stop offset="0" stop-color="#f6c014"/><stop offset="0.42" stop-color="#f8d44a"/><stop offset="0.55" stop-color="#fcefa0"/><stop offset="0.7" stop-color="#f8d44a"/><stop offset="1" stop-color="#f4bc10"/></linearGradient>
<linearGradient id="gb" x1="0" y1="0" x2="1" y2="0"><stop offset="0" stop-color="#6cbcd4"/><stop offset="1" stop-color="#0a5a9c"/></linearGradient>
<linearGradient id="gr" x1="0" y1="0" x2="1" y2="0"><stop offset="0" stop-color="#f29070"/><stop offset="1" stop-color="#cc1414"/></linearGradient>
<radialGradient id="gc" cx="0.5" cy="0.5" r="0.5"><stop offset="0" stop-color="#ffffff"/><stop offset="0.35" stop-color="#8fa0d0"/><stop offset="1" stop-color="#14306e"/></radialGradient>
</defs>
<path d="M835 105 L1445 405 L1442 780 C1430 1000 1330 1190 1180 1340 C1080 1440 950 1510 835 1565 C720 1510 590 1440 490 1340 C340 1190 240 1000 228 780 L225 405 Z" fill="#fff"/>
<g clip-path="url(#shc)">
<rect x="255" y="170" width="1160" height="27" fill="url(#gy)"/>
<rect x="255" y="212" width="1160" height="27" fill="url(#gy)"/>
<rect x="255" y="255" width="1160" height="27" fill="url(#gy)"/>
<rect x="255" y="297" width="1160" height="27" fill="url(#gy)"/>
<rect x="255" y="339" width="1160" height="27" fill="url(#gy)"/>
<rect x="255" y="382" width="1160" height="27" fill="url(#gy)"/>
<rect x="255" y="424" width="1160" height="27" fill="url(#gy)"/>
<rect x="255" y="466" width="1160" height="27" fill="url(#gy)"/>
<rect x="255" y="508" width="1160" height="27" fill="url(#gy)"/>
<rect x="255" y="551" width="1160" height="27" fill="url(#gy)"/>
<rect x="255" y="593" width="1160" height="27" fill="url(#gy)"/>
<rect x="255" y="635" width="1160" height="27" fill="url(#gy)"/>
<rect x="255" y="678" width="1160" height="27" fill="url(#gy)"/>
<rect x="255" y="720" width="1160" height="27" fill="url(#gy)"/>
<rect x="255" y="762" width="1160" height="27" fill="url(#gy)"/>
<rect x="255" y="804" width="1160" height="27" fill="url(#gy)"/>
<rect x="255" y="847" width="1160" height="27" fill="url(#gy)"/>
<rect x="255" y="889" width="1160" height="27" fill="url(#gb)"/>
<rect x="255" y="931" width="1160" height="27" fill="url(#gb)"/>
<rect x="255" y="974" width="1160" height="27" fill="url(#gb)"/>
<rect x="255" y="1016" width="1160" height="27" fill="url(#gb)"/>
<rect x="255" y="1058" width="1160" height="27" fill="url(#gb)"/>
<rect x="255" y="1101" width="1160" height="27" fill="url(#gb)"/>
<rect x="255" y="1143" width="1160" height="27" fill="url(#gb)"/>
<rect x="255" y="1185" width="1160" height="27" fill="url(#gb)"/>
<rect x="255" y="1227" width="1160" height="27" fill="url(#gr)"/>
<rect x="255" y="1270" width="1160" height="27" fill="url(#gr)"/>
<rect x="255" y="1312" width="1160" height="27" fill="url(#gr)"/>
<rect x="255" y="1354" width="1160" height="27" fill="url(#gr)"/>
<rect x="255" y="1397" width="1160" height="27" fill="url(#gr)"/>
<rect x="255" y="1439" width="1160" height="27" fill="url(#gr)"/>
<rect x="255" y="1481" width="1160" height="27" fill="url(#gr)"/>
<rect x="255" y="1524" width="1160" height="27" fill="url(#gr)"/>
</g>
<path d="M835 105 L1445 405 L1442 780 C1430 1000 1330 1190 1180 1340 C1080 1440 950 1510 835 1565 C720 1510 590 1440 490 1340 C340 1190 240 1000 228 780 L225 405 Z" fill="none" stroke="#9a9a9a" stroke-width="11"/>
<text x="840" y="578" font-size="205" text-anchor="middle" font-weight="bold" font-style="italic" style="font-family:'Liberation Sans',Arial,sans-serif" fill="#1c1c1c" stroke="#1c1c1c" stroke-width="14" textLength="960" lengthAdjust="spacingAndGlyphs">DIMAR</text>
<circle cx="835" cy="920" r="255" fill="url(#gc)" stroke="#2e2e2e" stroke-width="42"/>
<path d="M740 1100 L960 1035 L1010 1000 L935 985 L1075 880 L1270 795 L1195 700 L1140 745 L1040 790 L900 870 L990 880 L850 960 L700 1010 Z" fill="#fff" stroke="#111" stroke-width="7" stroke-linejoin="round"/>
<path d="M930 745 L710 800 L660 835 L740 850 L600 955 L400 1035 L440 1135 L520 1085 L640 1075 L770 980 L680 965 L820 885 L965 830 Z" fill="#fff" stroke="#111" stroke-width="7" stroke-linejoin="round"/>
<path d="M410 1215 L480 1150 A120 120 0 0 0 715 1150 A120 120 0 0 0 950 1150 A120 120 0 0 0 1185 1150 L1260 1215" fill="none" stroke="#2e2e2e" stroke-width="30" stroke-linejoin="miter"/>
<path d="M275 1250 C420 1420 640 1590 835 1740 C1030 1590 1250 1420 1395 1250" fill="none" stroke="#231f20" stroke-width="48" stroke-linejoin="miter"/>
<path d="M250 1170 L262 1320 L300 1285 L370 1255 Z" fill="#231f20"/>
<path d="M1420 1170 L1408 1320 L1370 1285 L1300 1255 Z" fill="#231f20"/>
<path d="M800 1700 L835 1765 L870 1700 Z" fill="#231f20"/>
</g>
<text x="1170.4" y="1455.6" font-size="13" text-anchor="middle" font-weight="bold" style="font-family:'Liberation Sans',Arial,sans-serif" fill="#111" stroke="#111" stroke-width="0.45" textLength="212" lengthAdjust="spacingAndGlyphs">Dirección General Marítima</text>
<text x="1170.7" y="1469.6" font-size="11.5" text-anchor="middle" style="font-family:'Liberation Sans',Arial,sans-serif" fill="#222" textLength="211" lengthAdjust="spacing">Autoridad Marítima Colombiana</text>
</g>
</g>
<rect x="1507" y="1472.45" width="68" height="41.85" fill="#000086"/>
<rect x="1507" y="1435.35" width="68" height="37.7" fill="#0000ae"/>
<rect x="1507" y="1398.24" width="68" height="37.7" fill="#0000d6"/>
<rect x="1507" y="1324.14" width="68" height="74.71" fill="#0000ff"/>
<rect x="1507" y="1303.08" width="68" height="21.66" fill="#0018ff"/>
<rect x="1507" y="1282.01" width="68" height="21.66" fill="#0028ff"/>
<rect x="1507" y="1260.95" width="68" height="21.66" fill="#0038ff"/>
<rect x="1507" y="1239.89" width="68" height="21.66" fill="#0048ff"/>
<rect x="1507" y="1218.83" width="68" height="21.66" fill="#0058ff"/>
<rect x="1507" y="1197.76" width="68" height="21.66" fill="#0068ff"/>
<rect x="1507" y="1176.7" width="68" height="21.66" fill="#0078ff"/>
<rect x="1507" y="1155.64" width="68" height="21.66" fill="#0087ff"/>
<rect x="1507" y="1134.58" width="68" height="21.66" fill="#0097ff"/>
<rect x="1507" y="1113.51" width="68" height="21.66" fill="#00a7ff"/>
<rect x="1507" y="1092.45" width="68" height="21.66" fill="#00b7ff"/>
<rect x="1507" y="1071.39" width="68" height="21.66" fill="#00c7ff"/>
<rect x="1507" y="1050.33" width="68" height="21.66" fill="#00d7ff"/>
<rect x="1507" y="1029.26" width="68" height="21.66" fill="#01e7f5"/>
<rect x="1507" y="1008.2" width="68" height="21.66" fill="#0ef7e9"/>
<rect x="1507" y="987.14" width="68" height="21.66" fill="#1bffdc"/>
<rect x="1507" y="966.08" width="68" height="21.66" fill="#28ffcf"/>
<rect x="1507" y="945.01" width="68" height="21.66" fill="#35ffc2"/>
<rect x="1507" y="923.95" width="68" height="21.66" fill="#42ffb5"/>
<rect x="1507" y="902.89" width="68" height="21.66" fill="#4effa8"/>
<rect x="1507" y="881.83" width="68" height="21.66" fill="#5bff9c"/>
<rect x="1507" y="860.76" width="68" height="21.66" fill="#68ff8f"/>
<rect x="1507" y="839.7" width="68" height="21.66" fill="#75ff82"/>
<rect x="1507" y="818.64" width="68" height="21.66" fill="#82ff75"/>
<rect x="1507" y="797.58" width="68" height="21.66" fill="#8fff68"/>
<rect x="1507" y="776.51" width="68" height="21.66" fill="#9cff5b"/>
<rect x="1507" y="755.45" width="68" height="21.66" fill="#a8ff4e"/>
<rect x="1507" y="734.39" width="68" height="21.66" fill="#b5ff42"/>
<rect x="1507" y="713.33" width="68" height="21.66" fill="#c2ff35"/>
<rect x="1507" y="692.26" width="68" height="21.66" fill="#cfff28"/>
<rect x="1507" y="671.2" width="68" height="21.66" fill="#dcff1b"/>
<rect x="1507" y="650.14" width="68" height="21.66" fill="#e9ff0e"/>
<rect x="1507" y="629.08" width="68" height="21.66" fill="#f5f701"/>
<rect x="1507" y="608.01" width="68" height="21.66" fill="#ffe800"/>
<rect x="1507" y="586.95" width="68" height="21.66" fill="#ffda00"/>
<rect x="1507" y="565.89" width="68" height="21.66" fill="#ffcb00"/>
<rect x="1507" y="544.83" width="68" height="21.66" fill="#ffbc00"/>
<rect x="1507" y="523.76" width="68" height="21.66" fill="#ffad00"/>
<rect x="1507" y="502.7" width="68" height="21.66" fill="#ff9e00"/>
<rect x="1507" y="481.64" width="68" height="21.66" fill="#ff9000"/>
<rect x="1507" y="460.57" width="68" height="21.66" fill="#ff8100"/>
<rect x="1507" y="439.51" width="68" height="21.66" fill="#ff7200"/>
<rect x="1507" y="418.45" width="68" height="21.66" fill="#ff6300"/>
<rect x="1507" y="397.39" width="68" height="21.66" fill="#ff5500"/>
<rect x="1507" y="376.32" width="68" height="21.66" fill="#ff4600"/>
<rect x="1507" y="355.26" width="68" height="21.66" fill="#ff3700"/>
<rect x="1507" y="334.2" width="68" height="21.66" fill="#ff2800"/>
<rect x="1507" y="313.14" width="68" height="21.66" fill="#ff1a00"/>
<rect x="1507" y="292.07" width="68" height="21.66" fill="#f50b00"/>
<rect x="1507" y="271.01" width="68" height="21.66" fill="#e30000"/>
<rect x="1507" y="249.95" width="68" height="21.66" fill="#d10000"/>
<rect x="1507" y="228.89" width="68" height="21.66" fill="#bf0000"/>
<rect x="1507" y="207.82" width="68" height="21.66" fill="#ad0000"/>
<rect x="1507" y="186.76" width="68" height="21.66" fill="#9b0000"/>
<rect x="1507" y="165.7" width="68" height="21.66" fill="#890000"/>
<rect x="1507" y="166" width="68" height="1348" fill="none" stroke="#000" stroke-width="2.22"/>
<line x1="1575" y1="1514" x2="1585.02" y2="1514" stroke="#000" stroke-width="2.22"/>
<text x="1593.64" y="1525" font-size="27.78" text-anchor="start">0.0</text>
<line x1="1575" y1="1345.5" x2="1585.02" y2="1345.5" stroke="#000" stroke-width="2.22"/>
<text x="1593.64" y="1356.5" font-size="27.78" text-anchor="start">0.5</text>
<line x1="1575" y1="1177" x2="1585.02" y2="1177" stroke="#000" stroke-width="2.22"/>
<text x="1593.64" y="1188" font-size="27.78" text-anchor="start">1.0</text>
<line x1="1575" y1="1008.5" x2="1585.02" y2="1008.5" stroke="#000" stroke-width="2.22"/>
<text x="1593.64" y="1019.5" font-size="27.78" text-anchor="start">1.5</text>
<line x1="1575" y1="840" x2="1585.02" y2="840" stroke="#000" stroke-width="2.22"/>
<text x="1593.64" y="851" font-size="27.78" text-anchor="start">2.0</text>
<line x1="1575" y1="671.5" x2="1585.02" y2="671.5" stroke="#000" stroke-width="2.22"/>
<text x="1593.64" y="682.5" font-size="27.78" text-anchor="start">2.5</text>
<line x1="1575" y1="503" x2="1585.02" y2="503" stroke="#000" stroke-width="2.22"/>
<text x="1593.64" y="514" font-size="27.78" text-anchor="start">3.0</text>
<line x1="1575" y1="334.5" x2="1585.02" y2="334.5" stroke="#000" stroke-width="2.22"/>
<text x="1593.64" y="345.5" font-size="27.78" text-anchor="start">3.5</text>
<line x1="1575" y1="166" x2="1585.02" y2="166" stroke="#000" stroke-width="2.22"/>
<text x="1593.64" y="177" font-size="27.78" text-anchor="start">4.0</text>
<text x="1670.1" y="838.2" font-size="27.78" text-anchor="middle" transform="rotate(-90 1670.1 838.2)">Altura Significativa (m)</text>
<clipPath id="c2"><rect x="111" y="1650" width="1643" height="275"/></clipPath>
<g clip-path="url(#c2)">
<rect x="106" y="1650" width="1653" height="103.5" fill="#ff0000" fill-opacity="0.2" stroke="#ff0000" stroke-opacity="0.2" stroke-width="2.78"/>
<rect x="106" y="1753.5" width="1653" height="86" fill="#ffa500" fill-opacity="0.2" stroke="#ffa500" stroke-opacity="0.2" stroke-width="2.78"/>
<rect x="106" y="1839.5" width="1653" height="52" fill="#ffff00" fill-opacity="0.2" stroke="#ffff00" stroke-opacity="0.2" stroke-width="2.78"/>
<rect x="106" y="1891.5" width="1653" height="33.5" fill="#008000" fill-opacity="0.2" stroke="#008000" stroke-opacity="0.2" stroke-width="2.78"/>
<polyline points="186,1884.6 223.32,1884.5 260.65,1881.85 297.98,1878.3 335.3,1874.26 372.62,1863.4 409.95,1853.4 447.28,1850.4 484.6,1852.2 521.92,1848.9 559.25,1846.5 596.58,1840.1 633.9,1834.7 671.23,1838.7 708.55,1849.2 745.88,1856.3 783.2,1861.7 820.53,1865.4 857.85,1865.4 895.18,1862.7 932.5,1862.7 969.83,1868.1 1007.15,1869.1 1044.47,1873.4 1081.8,1876.9 1119.12,1877.9 1156.45,1875.5 1193.78,1870.5 1231.1,1854.9 1268.43,1845.1 1305.75,1844.8 1343.08,1857.3 1380.4,1866.1 1417.73,1862.8 1455.05,1855.8 1492.38,1851.6 1529.7,1843.6 1567.03,1838.4 1604.35,1843.65 1641.68,1846.8 1679,1854" fill="none" stroke="#0000ff" stroke-width="4.17" stroke-linejoin="round" stroke-linecap="butt"/>
<circle cx="186" cy="1884.6" r="8.33" fill="#f00000" stroke="#f00000" stroke-width="2.78"/>
</g>
<text x="187" y="1863.1" font-size="27.78" text-anchor="start">0.60 m</text>
<line x1="186" y1="1925" x2="186" y2="1935.02" stroke="#000" stroke-width="2.22"/>
<text x="186" y="1967.3" font-size="27.78" text-anchor="middle">2025-10-22</text>
<line x1="484" y1="1925" x2="484" y2="1935.02" stroke="#000" stroke-width="2.22"/>
<text x="484" y="1967.3" font-size="27.78" text-anchor="middle">2025-10-23</text>
<line x1="783" y1="1925" x2="783" y2="1935.02" stroke="#000" stroke-width="2.22"/>
<text x="783" y="1967.3" font-size="27.78" text-anchor="middle">2025-10-24</text>
<line x1="1082" y1="1925" x2="1082" y2="1935.02" stroke="#000" stroke-width="2.22"/>
<text x="1082" y="1967.3" font-size="27.78" text-anchor="middle">2025-10-25</text>
<line x1="1380" y1="1925" x2="1380" y2="1935.02" stroke="#000" stroke-width="2.22"/>
<text x="1380" y="1967.3" font-size="27.78" text-anchor="middle">2025-10-26</text>
<line x1="1679" y1="1925" x2="1679" y2="1935.02" stroke="#000" stroke-width="2.22"/>
<text x="1679" y="1967.3" font-size="27.78" text-anchor="middle">2025-10-27</text>
<line x1="111" y1="1925" x2="100.98" y2="1925" stroke="#000" stroke-width="2.22"/>
<text x="92.16" y="1936.3" font-size="27.78" text-anchor="end">0</text>
<line x1="111" y1="1856" x2="100.98" y2="1856" stroke="#000" stroke-width="2.22"/>
<text x="92.16" y="1867.3" font-size="27.78" text-anchor="end">1</text>
<line x1="111" y1="1788" x2="100.98" y2="1788" stroke="#000" stroke-width="2.22"/>
<text x="92.16" y="1799.3" font-size="27.78" text-anchor="end">2</text>
<line x1="111" y1="1719" x2="100.98" y2="1719" stroke="#000" stroke-width="2.22"/>
<text x="92.16" y="1730.3" font-size="27.78" text-anchor="end">3</text>
<line x1="111" y1="1650" x2="100.98" y2="1650" stroke="#000" stroke-width="2.22"/>
<text x="92.16" y="1661.3" font-size="27.78" text-anchor="end">4</text>
<rect x="111" y="1650" width="1643" height="275" fill="none" stroke="#000" stroke-width="2.22"/>
<text x="932.5" y="1633.7" font-size="33.33" text-anchor="middle">Islas del Rosario (Estrella Roja)</text>
<text x="56" y="1788.5" font-size="27.78" text-anchor="middle" transform="rotate(-90 56 1788.5)">Altura (m)</text>
<clipPath id="c3"><rect x="111" y="2047" width="1643" height="276"/></clipPath>
<g clip-path="url(#c3)">
<rect x="106" y="2047" width="1653" height="104.5" fill="#ff0000" fill-opacity="0.2" stroke="#ff0000" stroke-opacity="0.2" stroke-width="2.78"/>
<rect x="106" y="2151.5" width="1653" height="86" fill="#ffa500" fill-opacity="0.2" stroke="#ffa500" stroke-opacity="0.2" stroke-width="2.78"/>
<rect x="106" y="2237.5" width="1653" height="52" fill="#ffff00" fill-opacity="0.2" stroke="#ffff00" stroke-opacity="0.2" stroke-width="2.78"/>
<rect x="106" y="2289.5" width="1653" height="33.5" fill="#008000" fill-opacity="0.2" stroke="#008000" stroke-opacity="0.2" stroke-width="2.78"/>
<polyline points="186,2281.5 223.32,2279.6 260.65,2268.4 297.98,2258 335.3,2255.6 372.62,2252.6 409.95,2239.1 447.28,2239.1 484.6,2244.5 521.92,2244.5 559.25,2243.8 596.58,2242.6 633.9,2238.7 671.23,2238.1 708.55,2244.8 745.88,2250.9 783.2,2255.6 820.53,2259.7 857.85,2263 895.18,2266.4 932.5,2263 969.83,2264.4 1007.15,2267.4 1044.47,2269.5 1081.8,2269.7 1119.12,2270 1156.45,2270.5 1193.78,2271.1 1231.1,2265.7 1268.43,2259 1305.75,2253.6 1343.08,2258.6 1380.4,2266.1 1417.73,2265.7 1455.05,2259.9 1492.38,2254.2 1529.7,2251.3 1567.03,2245.7 1604.35,2246.8 1641.68,2250.2 1679,2255" fill="none" stroke="#0000ff" stroke-width="4.17" stroke-linejoin="round" stroke-linecap="butt"/>
<circle cx="186" cy="2281.5" r="8.33" fill="#f00000" stroke="#f00000" stroke-width="2.78"/>
</g>
<text x="187" y="2260" font-size="27.78" text-anchor="start">0.60 m</text>
<line x1="186" y1="2323" x2="186" y2="2333.02" stroke="#000" stroke-width="2.22"/>
<text x="186" y="2365.3" font-size="27.78" text-anchor="middle">2025-10-22</text>
<line x1="484" y1="2323" x2="484" y2="2333.02" stroke="#000" stroke-width="2.22"/>
<text x="484" y="2365.3" font-size="27.78" text-anchor="middle">2025-10-23</text>
<line x1="783" y1="2323" x2="783" y2="2333.02" stroke="#000" stroke-width="2.22"/>
<text x="783" y="2365.3" font-size="27.78" text-anchor="middle">2025-10-24</text>
<line x1="1082" y1="2323" x2="1082" y2="2333.02" stroke="#000" stroke-width="2.22"/>
<text x="1082" y="2365.3" font-size="27.78" text-anchor="middle">2025-10-25</text>
<line x1="1380" y1="2323" x2="1380" y2="2333.02" stroke="#000" stroke-width="2.22"/>
<text x="1380" y="2365.3" font-size="27.78" text-anchor="middle">2025-10-26</text>
<line x1="1679" y1="2323" x2="1679" y2="2333.02" stroke="#000" stroke-width="2.22"/>
<text x="1679" y="2365.3" font-size="27.78" text-anchor="middle">2025-10-27</text>
<line x1="111" y1="2323" x2="100.98" y2="2323" stroke="#000" stroke-width="2.22"/>
<text x="92.16" y="2334.3" font-size="27.78" text-anchor="end">0</text>
<line x1="111" y1="2254" x2="100.98" y2="2254" stroke="#000" stroke-width="2.22"/>
<text x="92.16" y="2265.3" font-size="27.78" text-anchor="end">1</text>
<line x1="111" y1="2185" x2="100.98" y2="2185" stroke="#000" stroke-width="2.22"/>
<text x="92.16" y="2196.3" font-size="27.78" text-anchor="end">2</text>
<line x1="111" y1="2116" x2="100.98" y2="2116" stroke="#000" stroke-width="2.22"/>
<text x="92.16" y="2127.3" font-size="27.78" text-anchor="end">3</text>
<line x1="111" y1="2047" x2="100.98" y2="2047" stroke="#000" stroke-width="2.22"/>
<text x="92.16" y="2058.3" font-size="27.78" text-anchor="end">4</text>
<rect x="111" y="2047" width="1643" height="276" fill="none" stroke="#000" stroke-width="2.22"/>
<text x="932.5" y="2030.7" font-size="33.33" text-anchor="middle">Boca Grande (Estrella Blanca)</text>
<text x="56" y="2186" font-size="27.78" text-anchor="middle" transform="rotate(-90 56 2186)">Altura (m)</text>
</svg></body></html>
